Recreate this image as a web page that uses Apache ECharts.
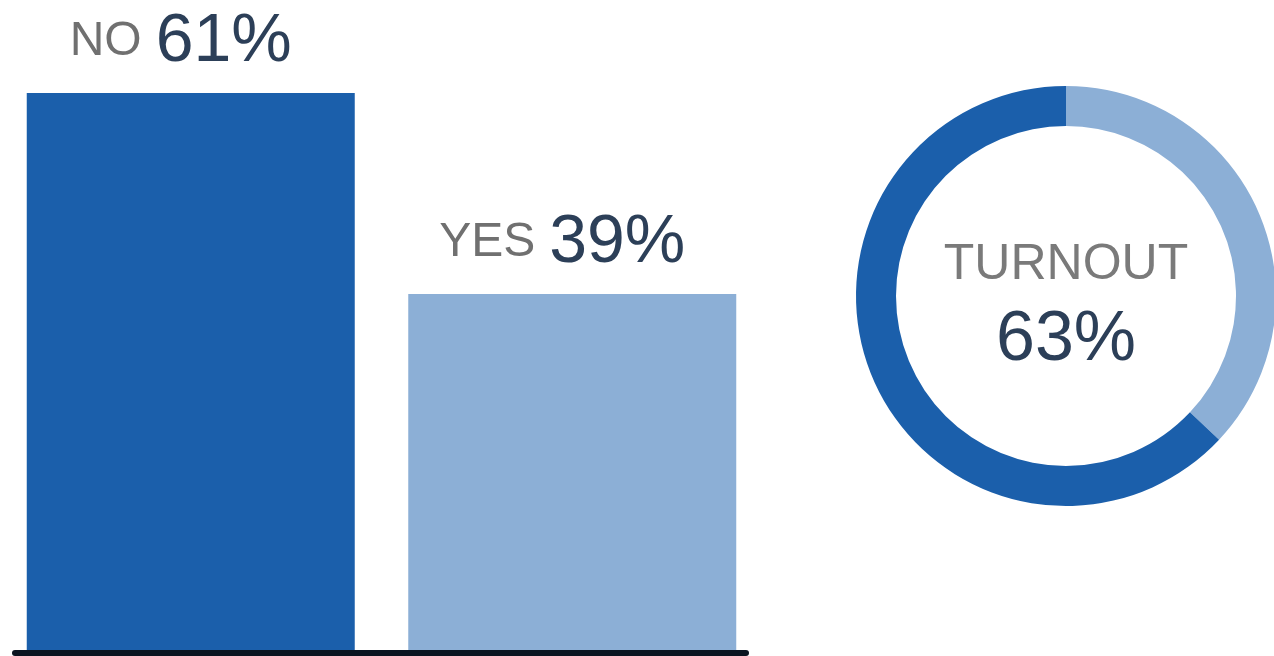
<!DOCTYPE html>
<html>
<head>
<meta charset="utf-8">
<script src="https://cdn.jsdelivr.net/npm/echarts@6/dist/echarts.min.js"></script>
<style>
  html, body { margin: 0; padding: 0; background: #fff; }
  #main { width: 1274px; height: 656px; }
</style>
</head>
<body>
<div id="main"></div>
<script>
// vote result
const categories = ['NO', 'YES']
const votePct = [61, 39]
// turnout donut
const turnoutPct = 63
const turnoutRest = 100 - turnoutPct

const darkBlue = '#1b5fab'
const lightBlue = '#8cafd6'
const font = '"Liberation Sans", Arial, sans-serif'

const chart = echarts.init(document.getElementById('main'))

const option = {
  backgroundColor: '#fff',
  animation: false,
  grid: [
    { left: -15, width: 778, top: 93, bottom: 6 },  // bars
    { left: 15, right: 528, top: 0, bottom: 3 }     // black baseline
  ],
  xAxis: [
    {
      gridIndex: 0, type: 'category', data: categories,
      axisLine: { show: false }, axisTick: { show: false }, axisLabel: { show: false }
    },
    {
      gridIndex: 1, type: 'category', data: categories,
      axisLine: { show: true, lineStyle: { color: '#0a1420', width: 6 } },
      axisTick: { show: false }, axisLabel: { show: false }
    }
  ],
  yAxis: [
    {
      gridIndex: 0, type: 'value', min: 0, max: Math.max(...votePct),
      show: false, splitLine: { show: false }
    },
    { gridIndex: 1, type: 'value', show: false, splitLine: { show: false } }
  ],
  series: [
    {
      type: 'bar',
      xAxisIndex: 0, yAxisIndex: 0,
      barWidth: 328,
      data: votePct.map((v, i) => ({
        value: v,
        itemStyle: { color: i === 0 ? darkBlue : lightBlue }
      })),
      label: {
        show: true,
        position: 'top',
        distance: 17,
        offset: [-10, 0],
        formatter: p => '{a|' + p.name + '}{b|' + p.value + '%}',
        rich: {
          a: { fontFamily: font, fontSize: 48, color: '#707070' },
          b: { fontFamily: font, fontSize: 68, color: '#2c3f58', padding: [0, 0, 0, 14] }
        }
      }
    },
    {
      type: 'pie',
      center: [1066, 296],
      radius: [170, 210],
      startAngle: 90,
      clockwise: true,
      silent: true,
      labelLine: { show: false },
      data: [
        { value: turnoutRest, name: 'rest', itemStyle: { color: lightBlue }, label: { show: false } },
        {
          value: turnoutPct, name: 'TURNOUT', itemStyle: { color: darkBlue },
          label: {
            show: true,
            position: 'center',
            padding: [16, 0, 0, 0],
            formatter: p => '{a|' + p.name + '}\n{b|' + p.value + '%}',
            rich: {
              a: { fontFamily: font, fontSize: 50, color: '#7a7a7a', lineHeight: 74 },
              b: { fontFamily: font, fontSize: 70, color: '#2c3f58', lineHeight: 78 }
            }
          }
        }
      ]
    }
  ]
}

chart.setOption(option)
window.onresize = chart.resize
</script>
</body>
</html>
